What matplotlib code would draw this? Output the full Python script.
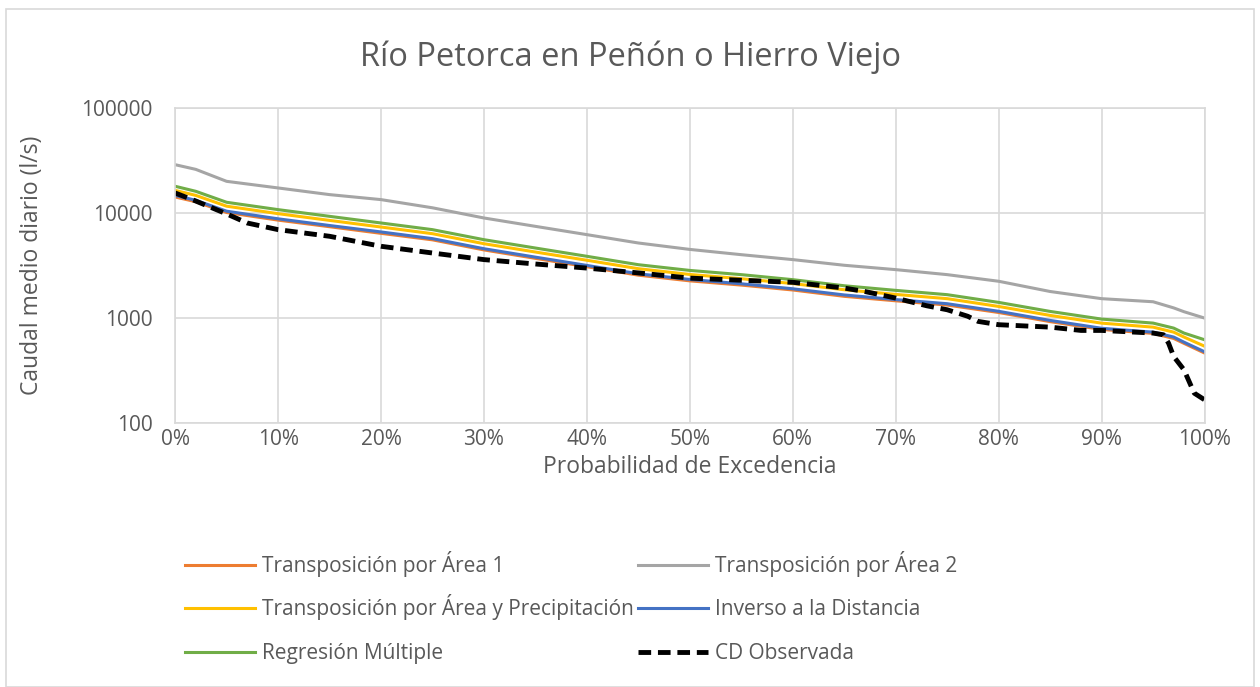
import matplotlib
matplotlib.use('Agg')
import matplotlib.pyplot as plt
from matplotlib.ticker import FixedLocator, FuncFormatter, PercentFormatter
from matplotlib.patches import Rectangle

# probabilidad de excedencia (%) para las curvas estimadas
prob = [0, 2, 5, 10, 15, 20, 25, 30, 35, 40, 45, 50,
        55, 60, 65, 70, 75, 80, 85, 90, 95, 97, 98, 100]

area_1 = [14200, 12800, 10100, 8550, 7400, 6400, 5550, 4450, 3700, 3080,
          2560, 2260, 2060, 1850, 1610, 1460, 1330, 1130, 925, 780,
          715, 640, 575, 465]
area_2 = [28800, 26000, 20000, 17300, 14950, 13400, 11200, 8960, 7460, 6220,
          5180, 4500, 4010, 3600, 3180, 2890, 2590, 2240, 1790, 1530,
          1430, 1250, 1150, 1000]
area_precip = [16400, 14700, 11600, 9850, 8500, 7350, 6350, 5100, 4250, 3550,
               2950, 2600, 2370, 2130, 1860, 1680, 1530, 1290, 1060, 895,
               820, 735, 660, 540]
inverso = [14700, 13200, 10400, 8800, 7600, 6600, 5700, 4570, 3800, 3170,
           2640, 2330, 2120, 1900, 1660, 1500, 1370, 1160, 950, 800,
           735, 660, 590, 478]
regresion = [17950, 16080, 12640, 10760, 9290, 8030, 6940, 5570, 4640, 3870,
             3220, 2840, 2590, 2320, 2030, 1835, 1670, 1410, 1157, 978,
             896, 803, 720, 622]

# curva de duracion observada
prob_obs = [0, 2, 4, 5, 7, 10, 15, 20, 25, 30, 35, 40, 45, 50, 55, 60, 65,
            67, 70, 73, 75, 77, 78, 80, 85, 88, 90, 95, 96, 96.5, 97, 98,
            99, 100]
observada = [15500, 13000, 10760, 9800, 8030, 6940, 6000, 4820, 4160, 3600,
             3270, 2990, 2690, 2400, 2290, 2190, 1930, 1790, 1550, 1310,
             1200, 1040, 930, 865, 820, 763, 763, 720, 694, 578, 431, 322,
             193, 167]

y_ticks = [100, 1000, 10000, 100000]
x_ticks = list(range(0, 101, 10))

TEXT = '#595959'
GRID = '#D9D9D9'

plt.rcParams['font.family'] = ['Open Sans', 'DejaVu Sans']

fig = plt.figure(figsize=(12.6, 6.87), dpi=100)
ax = fig.add_axes([0.139, 0.384, 0.817, 0.459])

ax.plot(prob, area_1, color='#ED7D31', lw=2.2, label='Transposición por Área 1')
ax.plot(prob, area_2, color='#A5A5A5', lw=2.2, label='Transposición por Área 2')
ax.plot(prob, area_precip, color='#FFC000', lw=2.2,
        label='Transposición por Área y Precipitación')
ax.plot(prob, inverso, color='#4472C4', lw=2.2, label='Inverso a la Distancia')
ax.plot(prob, regresion, color='#70AD47', lw=2.2, label='Regresión Múltiple')
ax.plot(prob_obs, observada, color='black', lw=3.5, dashes=(2.6, 1.4),
        label='CD Observada')

ax.set_yscale('log')
ax.set_ylim(100, 100000)
ax.set_xlim(0, 100)
ax.yaxis.set_major_locator(FixedLocator(y_ticks))
ax.yaxis.set_minor_locator(FixedLocator([]))
ax.yaxis.set_major_formatter(FuncFormatter(lambda v, p: f'{v:.0f}'))
ax.xaxis.set_major_locator(FixedLocator(x_ticks))
ax.xaxis.set_major_formatter(PercentFormatter(100, decimals=0))

ax.grid(True, color=GRID, lw=1.2)
ax.set_axisbelow(True)
for s in ax.spines.values():
    s.set_color(GRID)
    s.set_linewidth(1.2)
ax.tick_params(length=0, labelsize=15, colors=TEXT)
ax.tick_params(axis='y', pad=16)
ax.tick_params(axis='x', pad=4)

ax.set_xlabel('Probabilidad de Excedencia', fontsize=16.5, color=TEXT)
ax.set_ylabel('Caudal medio diario (l/s)', fontsize=16.5, color=TEXT)
ax.xaxis.set_label_coords(0.5, -0.10)
ax.yaxis.set_label_coords(-0.127, 0.5)
fig.text(0.5, 0.917, 'Río Petorca en Peñón o Hierro Viejo', ha='center',
         va='center', fontsize=23.5, color=TEXT)

# leyenda: cada entrada por separado para que las filas queden alineadas
h, l = ax.get_legend_handles_labels()
col_x = [0.1468, 0.5063]
row_y = [0.160, 0.0975, 0.0335]
slots = [(0, 0), (1, 0), (0, 1), (1, 1), (0, 2), (1, 2)]
for i, (c, r) in enumerate(slots):
    leg = fig.legend([h[i]], [l[i]], loc='lower left',
                     bbox_to_anchor=(col_x[c], row_y[r]),
                     bbox_transform=fig.transFigure, frameon=False,
                     fontsize=15, labelcolor=TEXT, handlelength=3.35,
                     handletextpad=0.33, borderpad=0, borderaxespad=0)

# marco exterior del grafico
fig.patches.append(Rectangle((0.005, 0.0), 0.99, 0.987, transform=fig.transFigure,
                             fill=False, edgecolor=GRID, lw=1.2))

fig.savefig('out.png', dpi=100)
